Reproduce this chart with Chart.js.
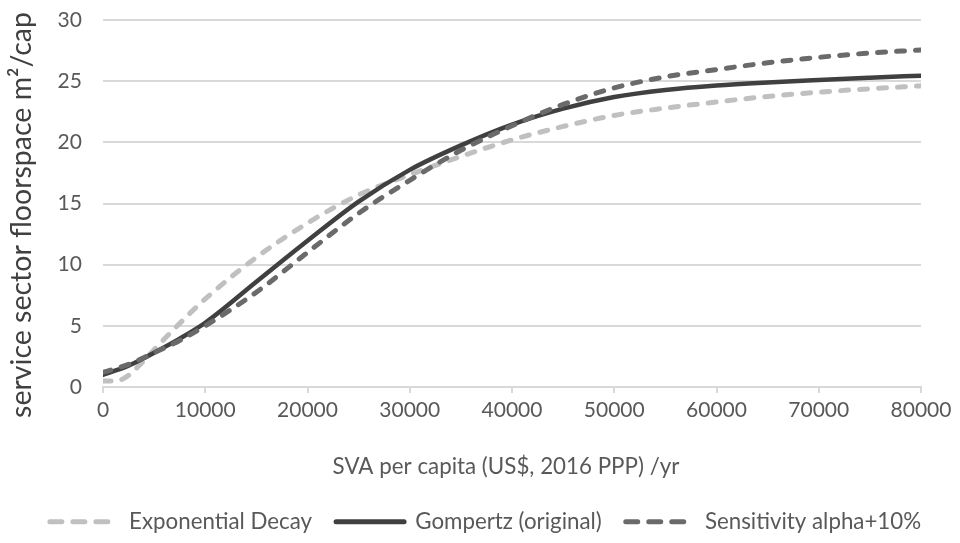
<!DOCTYPE html>
<html>
<head>
<meta charset="utf-8">
<title>Service sector floorspace vs SVA per capita</title>
<script src="https://cdn.jsdelivr.net/npm/chart.js@4.4.1/dist/chart.umd.min.js"></script>
<style>
  html, body { margin: 0; padding: 0; background: #ffffff; }
  #wrap { width: 960px; height: 543px; }
</style>
</head>
<body>
<div id="wrap"><canvas id="chart" width="960" height="543"></canvas></div>
<script>
// SVA per capita (US$, 2016 PPP) at which each curve is sampled
const sva = [0, 1250, 2500, 3750, 5000, 7500, 10000, 15000, 20000, 25000, 30000,
             35000, 40000, 45000, 50000, 55000, 60000, 65000, 70000, 75000, 80000];

// service sector floorspace, m2 per capita
const expDecay  = [0.5, 0.5, 0.95, 1.95, 3.05, 5.2, 7.2, 10.6, 13.4, 15.7, 17.35,
                   18.85, 20.2, 21.3, 22.2, 22.8, 23.3, 23.75, 24.1, 24.38, 24.62];
const gompertz  = [1.0, 1.35, 1.75, 2.25, 2.8, 3.95, 5.25, 8.6, 11.95, 15.15, 17.75,
                   19.75, 21.45, 22.75, 23.7, 24.28, 24.65, 24.9, 25.1, 25.28, 25.45];
const sensAlpha = [1.2, 1.5, 1.85, 2.3, 2.8, 3.8, 5.0, 7.75, 11.0, 14.2, 16.9,
                   19.35, 21.35, 23.1, 24.45, 25.35, 25.95, 26.5, 26.95, 27.3, 27.55];

const seriesNames = ['Exponential Decay', 'Gompertz (original)', 'Sensitivity alpha+10%'];
const xTitle = 'SVA per capita (US$, 2016 PPP) /yr';
const yTitle = 'service sector floorspace m\u00B2/cap';
const xRange = [0, 80000, 10000];
const yRange = [0, 30, 5];

// ---- typography: size each font so its text spans the intended width ----
const FAMILY = 'Lato, "Open Sans", "Liberation Sans", sans-serif';
const meas = document.createElement('canvas').getContext('2d');
function sizeFor(text, width) {
  meas.font = '100px ' + FAMILY;
  return 100 * width / meas.measureText(text).width;
}
const tickFont   = sizeFor('80000', 61);
const legendFont = sizeFor(seriesNames.join(''), 586);
const xTitleFont = sizeFor(xTitle, 347);
const yTitleFont = sizeFor(yTitle, 406);

// ---- frame of the plot ----
const frame = { top: 20, bottom: 387, left: 103, right: 921, width: 960, height: 543 };
const sidePad = 11;               // left inset of the whole layout (legend centring)
const legendPad = 24;
const legendSample = 68;
const legendHeight = legendFont + legendPad + 10;
const xAxisHeight = frame.height - frame.bottom - legendHeight;
const titlePos = { x: [506, 467], y: [22, 215] };

const GRID = '#d9d9d9';
const TEXT = '#595959';
const legendDash = [12, 11];

function points(values) {
  return sva.map((x, i) => ({ x: x, y: values[i] }));
}

const axisTitles = {
  id: 'axisTitles',
  afterDraw(chart) {
    const ctx = chart.ctx;
    ctx.save();
    ctx.textAlign = 'center';
    ctx.textBaseline = 'middle';
    ctx.fillStyle = TEXT;
    ctx.font = xTitleFont + 'px ' + FAMILY;
    ctx.fillText(xTitle, titlePos.x[0], titlePos.x[1]);
    ctx.translate(titlePos.y[0], titlePos.y[1]);
    ctx.rotate(-Math.PI / 2);
    ctx.fillStyle = '#404040';
    ctx.font = yTitleFont + 'px ' + FAMILY;
    ctx.fillText(yTitle, 0, 0);
    ctx.restore();
  }
};

const lineCommon = {
  pointRadius: 0,
  pointHoverRadius: 0,
  fill: false,
  cubicInterpolationMode: 'monotone',
  borderJoinStyle: 'round'
};

new Chart(document.getElementById('chart'), {
  type: 'line',
  data: {
    datasets: [
      Object.assign({}, lineCommon, {
        label: seriesNames[0], data: points(expDecay),
        borderColor: '#c0c0c0', borderWidth: 5,
        borderDash: [8, 11], borderCapStyle: 'round', order: 3
      }),
      Object.assign({}, lineCommon, {
        label: seriesNames[1], data: points(gompertz),
        borderColor: '#404040', borderWidth: 4.5,
        borderDash: [], borderCapStyle: 'round', order: 2
      }),
      Object.assign({}, lineCommon, {
        label: seriesNames[2], data: points(sensAlpha),
        borderColor: '#6a6a6a', borderWidth: 5,
        borderDash: [8, 11], borderCapStyle: 'round', order: 1
      })
    ]
  },
  options: {
    responsive: false,
    animation: false,
    devicePixelRatio: 1,
    layout: {
      padding: { top: frame.top, right: 0, bottom: 0, left: sidePad }
    },
    plugins: {
      tooltip: { enabled: false },
      legend: {
        display: true,
        position: 'bottom',
        labels: {
          usePointStyle: true,
          pointStyle: 'line',
          pointStyleWidth: legendSample,
          padding: legendPad,
          color: TEXT,
          font: { family: FAMILY, size: legendFont },
          generateLabels(chart) {
            return chart.data.datasets.map((ds, i) => ({
              text: ds.label,
              datasetIndex: i,
              hidden: !chart.isDatasetVisible(i),
              fillStyle: ds.borderColor,
              strokeStyle: ds.borderColor,
              lineWidth: 5,
              lineDash: ds.borderDash.length ? legendDash : [],
              lineCap: 'round',
              pointStyle: 'line',
              rotation: 0,
              fontColor: TEXT
            }));
          }
        }
      }
    },
    scales: {
      x: {
        type: 'linear',
        min: xRange[0], max: xRange[1],
        afterFit(scale) {
          scale.height = xAxisHeight;
          scale.paddingLeft = 0;
          scale.paddingRight = frame.width - frame.right;
        },
        ticks: {
          stepSize: xRange[2],
          padding: 5,
          maxRotation: 0,
          color: TEXT,
          font: { family: FAMILY, size: tickFont },
          callback: (v) => String(v)
        },
        grid: {
          drawOnChartArea: false,
          drawTicks: true,
          tickLength: 6,
          color: GRID,
          lineWidth: 2
        },
        border: { display: true, color: GRID, width: 2 }
      },
      y: {
        min: yRange[0], max: yRange[1],
        afterFit(scale) {
          scale.width = frame.left - sidePad;
          scale.paddingTop = 0;
          scale.paddingBottom = 0;
        },
        ticks: {
          stepSize: yRange[2],
          padding: 21,
          color: TEXT,
          font: { family: FAMILY, size: tickFont }
        },
        grid: { color: GRID, lineWidth: 2, drawTicks: false },
        border: { display: false }
      }
    }
  },
  plugins: [axisTitles]
});
</script>
</body>
</html>
